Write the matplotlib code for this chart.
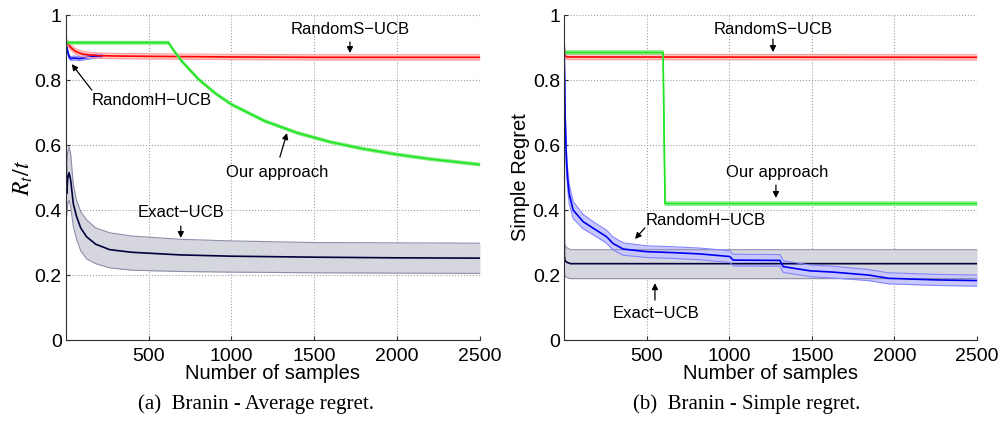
import numpy as np
import matplotlib
matplotlib.use('Agg')
import matplotlib.pyplot as plt

plt.rcParams['font.family'] = ['Liberation Sans', 'DejaVu Sans']
plt.rcParams['mathtext.fontset'] = 'stix'

# ---- (a) average regret R_t/t ----
a_exact_t = [1, 5, 12, 20, 30, 45, 65, 90, 125, 180, 266, 400, 690, 1000, 1500, 2000, 2500]
a_exact_mean = [0.67, 0.45, 0.50, 0.515, 0.49, 0.42, 0.38, 0.345, 0.318, 0.295, 0.278, 0.27, 0.262, 0.258, 0.255, 0.253, 0.252]
a_exact_hi = [0.75, 0.55, 0.58, 0.595, 0.57, 0.48, 0.43, 0.395, 0.37, 0.345, 0.33, 0.32, 0.31, 0.305, 0.30, 0.299, 0.298]
a_exact_lo = [0.59, 0.38, 0.42, 0.43, 0.41, 0.35, 0.31, 0.275, 0.25, 0.235, 0.222, 0.215, 0.211, 0.209, 0.207, 0.206, 0.205]

# RandomH-UCB is hidden under RandomS-UCB after ~t=200
a_randh_t = [1, 5, 10, 20, 30, 50, 80, 120, 160, 220]
a_randh_mean = [0.935, 0.91, 0.89, 0.872, 0.866, 0.868, 0.866, 0.869, 0.872, 0.875]
a_randh_spread = 0.006

a_rands_t = [1, 15, 30, 60, 100, 150, 200, 300, 500, 1000, 1500, 2500]
a_rands_mean = [0.92, 0.91, 0.90, 0.888, 0.88, 0.877, 0.875, 0.874, 0.873, 0.871, 0.870, 0.870]
a_rands_spread = 0.008

a_ours_t = [1, 620, 650, 700, 800, 900, 1000, 1200, 1400, 1600, 1800, 2000, 2200, 2500]
a_ours_mean = [0.915, 0.915, 0.892, 0.858, 0.803, 0.760, 0.725, 0.674, 0.637, 0.609, 0.588, 0.571, 0.557, 0.540]
a_ours_spread = 0.004

# ---- (b) simple regret ----
b_exact_t = [1, 3, 6, 15, 40, 2500]
b_exact_mean = [0.93, 0.26, 0.246, 0.24, 0.235, 0.235]
b_exact_hi = [0.95, 0.30, 0.292, 0.285, 0.278, 0.278]
b_exact_lo = [0.90, 0.21, 0.197, 0.193, 0.189, 0.189]

b_randh_t = [1, 8, 15, 22, 32, 56, 117, 178, 218, 258, 298, 359, 500, 662, 823, 1004, 1024, 1307, 1327,
             1489, 1630, 1842, 1963, 2255, 2500]
b_randh_mean = [0.93, 0.68, 0.56, 0.50, 0.45, 0.40, 0.364, 0.344, 0.331, 0.318, 0.297, 0.28, 0.272, 0.269, 0.265,
                0.257, 0.246, 0.245, 0.226, 0.213, 0.209, 0.20, 0.19, 0.185, 0.183]
b_randh_spread = [0.01, 0.03, 0.03, 0.03, 0.03, 0.026, 0.022, 0.02, 0.02, 0.02, 0.02, 0.019, 0.018, 0.018, 0.018,
                  0.018, 0.018, 0.018, 0.018, 0.018, 0.018, 0.017, 0.017, 0.017, 0.017]

b_rands_t = [1, 5, 20, 2500]
b_rands_mean = [0.92, 0.875, 0.871, 0.870]
b_rands_spread = 0.008

b_ours_t = [1, 600, 612, 2500]
b_ours_mean = [0.885, 0.885, 0.42, 0.42]
b_ours_spread = 0.005

x_ticks = [500, 1000, 1500, 2000, 2500]
y_ticks = [0, 0.2, 0.4, 0.6, 0.8, 1]
y_ticklabels = ['0', '0.2', '0.4', '0.6', '0.8', '1']

RED = ('#ff0000', '#ffcaca', '#ff9a9a')
GREEN = ('#1ee61e', '#b4f5b4', '#7ee87e')
BLUE = ('#0000f0', '#c8c8ff', '#8484ff')
EXACT = ('#00003c', '#d6d6de', '#8e8eaa')


def band(ax, t, mean, lo, hi, cols):
    line_c, fill_c, edge_c = cols
    ax.fill_between(t, lo, hi, color=fill_c, lw=0)
    ax.plot(t, lo, color=edge_c, lw=0.8)
    ax.plot(t, hi, color=edge_c, lw=0.8)
    ax.plot(t, mean, color=line_c, lw=1.2)


def spread_band(ax, t, mean, spread, cols):
    mean = np.asarray(mean)
    spread = np.asarray(spread)
    band(ax, t, mean, mean - spread, mean + spread, cols)


def note(ax, text, xy_text, tail, tip):
    ax.text(xy_text[0], xy_text[1], text, ha='center', va='center', fontsize=12)
    ax.annotate('', xy=tip, xytext=tail,
                arrowprops=dict(arrowstyle='-|>', color='black', lw=0.9,
                                mutation_scale=9, shrinkA=0, shrinkB=0))


def style(ax):
    ax.set_xlim(1, 2500)
    ax.set_ylim(0, 1)
    ax.set_xticks(x_ticks)
    ax.set_yticks(y_ticks)
    ax.set_yticklabels(y_ticklabels)
    ax.spines['top'].set_visible(False)
    ax.spines['right'].set_visible(False)
    for s in ['left', 'bottom']:
        ax.spines[s].set_color('#303030')
        ax.spines[s].set_linewidth(0.8)
    ax.tick_params(direction='in', length=3, labelsize=14, pad=3, color='#303030')
    ax.tick_params(axis='x', pad=6)
    ax.grid(True, linestyle=':', color='#a0a0a0', lw=0.8)
    ax.set_axisbelow(True)
    ax.set_xlabel('Number of samples', fontsize=14.5, labelpad=-1)


fig = plt.figure(figsize=(10.04, 4.24), dpi=100)
ax1 = fig.add_axes([0.0657, 0.198, 0.4124, 0.7665])
ax2 = fig.add_axes([0.5618, 0.198, 0.4114, 0.7665])

# (a)
band(ax1, a_exact_t, a_exact_mean, a_exact_lo, a_exact_hi, EXACT)
spread_band(ax1, a_randh_t, a_randh_mean, a_randh_spread, BLUE)
spread_band(ax1, a_rands_t, a_rands_mean, a_rands_spread, RED)
spread_band(ax1, a_ours_t, a_ours_mean, a_ours_spread, GREEN)
style(ax1)
ax1.set_ylabel(r'$R_t/t$', fontsize=17, labelpad=0)

note(ax1, 'RandomS\u2212UCB', (1715, 0.957), (1715, 0.917), (1715, 0.883))
note(ax1, 'RandomH\u2212UCB', (519, 0.738), (157, 0.769), (36, 0.849))
note(ax1, 'Our approach', (1274, 0.517), (1292, 0.563), (1335, 0.637))
note(ax1, 'Exact\u2212UCB', (694, 0.391), (694, 0.351), (694, 0.314))

# (b)
band(ax2, b_exact_t, b_exact_mean, b_exact_lo, b_exact_hi, EXACT)
spread_band(ax2, b_rands_t, b_rands_mean, b_rands_spread, RED)
spread_band(ax2, b_ours_t, b_ours_mean, b_ours_spread, GREEN)
spread_band(ax2, b_randh_t, b_randh_mean, b_randh_spread, BLUE)
style(ax2)
ax2.set_ylabel('Simple Regret', fontsize=14.5, labelpad=2)

note(ax2, 'RandomS\u2212UCB', (1265, 0.957), (1265, 0.926), (1265, 0.886))
note(ax2, 'Our approach', (1289, 0.517), (1283, 0.477), (1283, 0.437))
note(ax2, 'RandomH\u2212UCB', (860, 0.369), (490, 0.345), (430, 0.311))
note(ax2, 'Exact\u2212UCB', (557, 0.083), (551, 0.123), (551, 0.175))

fig.text(256 / 1004, 1 - 404 / 424, '(a)  Branin - Average regret.', ha='center', va='center',
         fontsize=15, family=['Liberation Serif', 'DejaVu Serif'])
fig.text(747 / 1004, 1 - 404 / 424, '(b)  Branin - Simple regret.', ha='center', va='center',
         fontsize=15, family=['Liberation Serif', 'DejaVu Serif'])

fig.savefig('out.png', dpi=100)
